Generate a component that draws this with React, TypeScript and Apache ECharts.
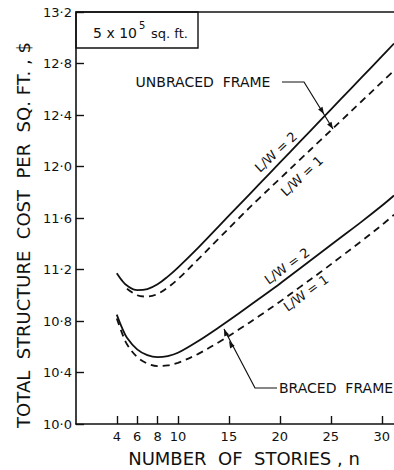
import React, { useEffect, useRef } from "react";
import * as echarts from "echarts";

// Number of stories tick positions
const xTickValues = [4, 6, 8, 10, 15, 20, 25, 30];

// Unbraced frame, L/W = 2 (solid)
const unbracedLW2: [number, number][] = [
  [4, 11.17], [4.5, 11.115], [5, 11.075], [6, 11.04], [7, 11.048], [8, 11.085],
  [9, 11.145], [10, 11.215], [12, 11.37], [14, 11.535], [16, 11.7], [18, 11.865],
  [20, 12.03], [22, 12.195], [24, 12.36], [26, 12.525], [28, 12.69], [30, 12.855], [31.2, 12.955],
];
// Unbraced frame, L/W = 1 (dashed)
const unbracedLW1: [number, number][] = [
  [5, 11.05], [6, 11.0], [7, 10.99], [8, 11.01], [9, 11.06], [10, 11.125],
  [12, 11.28], [14, 11.44], [16, 11.6], [18, 11.755], [20, 11.905], [22, 12.055],
  [24, 12.205], [26, 12.355], [28, 12.505], [30, 12.655], [31.2, 12.745],
];
// Braced frame, L/W = 2 (solid)
const bracedLW2: [number, number][] = [
  [4, 10.85], [4.5, 10.75], [5, 10.67], [6, 10.58], [7, 10.535], [8, 10.52],
  [9, 10.528], [10, 10.553], [12, 10.645], [14, 10.75], [16, 10.86], [18, 10.975],
  [20, 11.09], [22, 11.21], [24, 11.33], [26, 11.45], [28, 11.57], [30, 11.695], [31.2, 11.775],
];
// Braced frame, L/W = 1 (dashed)
const bracedLW1: [number, number][] = [
  [4, 10.82], [4.5, 10.71], [5, 10.62], [6, 10.52], [7, 10.47], [8, 10.45],
  [9, 10.455], [10, 10.475], [12, 10.545], [14, 10.635], [16, 10.735], [18, 10.84],
  [20, 10.95], [22, 11.065], [24, 11.18], [26, 11.3], [28, 11.42], [30, 11.545], [31.2, 11.625],
];

const FONT = "DejaVu Sans";
const INK = "#111";

function arrowHead(tip: number[], from: number[], len = 7, half = 2.6) {
  const dx = tip[0] - from[0];
  const dy = tip[1] - from[1];
  const d = Math.hypot(dx, dy);
  const ux = dx / d, uy = dy / d;
  const bx = tip[0] - ux * len, by = tip[1] - uy * len;
  return {
    type: "polygon",
    shape: { points: [tip, [bx - uy * half, by + ux * half], [bx + uy * half, by - ux * half]] },
    style: { fill: INK },
  };
}

function txt(x: number, y: number, text: string, size: number, extra: any = {}) {
  return {
    type: "text",
    x, y,
    ...extra,
    style: {
      text, fontSize: size, fontFamily: FONT, fill: INK,
      align: extra.align || "center", verticalAlign: "middle",
    },
  };
}

export default function App() {
  const ref = useRef<HTMLDivElement>(null);
  useEffect(() => {
    document.body.style.margin = "0";
    const chart = echarts.init(ref.current!, null, { renderer: "svg" });
    const line = (data: [number, number][], dashed: boolean) => ({
      type: "line",
      data,
      showSymbol: false,
      smooth: 0.35,
      silent: true,
      lineStyle: { color: INK, width: 1.8, type: dashed ? [7, 5] : "solid" },
    });
    const up1 = [282, 82], up2 = [304, 82], upA = [324, 114], upB = [333, 129];
    const br1 = [277, 388], br2 = [255, 388], brA = [229, 341], brB = [224, 329];
    chart.setOption({
      animation: false,
      backgroundColor: "#fff",
      grid: { left: 76, top: 12, right: 0, bottom: 46, containLabel: false, outerBoundsMode: "none" },
      xAxis: {
        type: "value",
        min: 0,
        max: 31.2,
        axisLine: { lineStyle: { color: INK, width: 1.6 } },
        axisTick: { show: true, inside: true, length: 8, customValues: xTickValues, lineStyle: { color: INK, width: 1.4 } },
        axisLabel: { customValues: xTickValues, margin: 6, fontSize: 13, fontFamily: FONT, color: INK },
        splitLine: { show: false },
      },
      yAxis: {
        type: "value",
        min: 10,
        max: 13.2,
        interval: 0.4,
        axisLine: { show: true, lineStyle: { color: INK, width: 1.6 } },
        axisTick: { show: true, inside: true, length: 8, lineStyle: { color: INK, width: 1.4 } },
        axisLabel: {
          margin: 4, fontSize: 13, fontFamily: FONT, color: INK,
          formatter: (v: number) => v.toFixed(1).replace(".", "·"),
        },
        splitLine: { show: false },
      },
      series: [
        line(unbracedLW2, false),
        line(unbracedLW1, true),
        line(bracedLW2, false),
        line(bracedLW1, true),
      ],
      graphic: [
        { type: "line", shape: { x1: 76, y1: 12, x2: 394, y2: 12 }, style: { stroke: INK, lineWidth: 1.6 } },
        { type: "rect", shape: { x: 76, y: 12, width: 122, height: 36 }, style: { fill: "none", stroke: INK, lineWidth: 1.4 } },
        txt(137, 33, "5 x 10", 14, { align: "right" }),
        txt(139, 25, "5", 10, { align: "left" }),
        txt(151, 33, "sq. ft.", 13, { align: "left" }),
        txt(203, 82, "UNBRACED  FRAME", 14),
        { type: "polyline", shape: { points: [up1, up2, upB] }, style: { stroke: INK, lineWidth: 1.2, fill: "none" } },
        arrowHead(upA, up2),
        arrowHead(upB, up2),
        txt(336, 388, "BRACED  FRAME", 14),
        { type: "polyline", shape: { points: [br1, br2, brB] }, style: { stroke: INK, lineWidth: 1.2, fill: "none" } },
        arrowHead(brA, br2),
        arrowHead(brB, brA),
        txt(276, 152, "L/W = 2", 13, { rotation: 0.75 }),
        txt(302, 176, "L/W = 1", 13, { rotation: 0.75 }),
        txt(287, 266, "L/W = 2", 13, { rotation: 0.63 }),
        txt(306, 293, "L/W = 1", 13, { rotation: 0.63 }),
        txt(23, 235, "TOTAL  STRUCTURE  COST  PER  SQ. FT. , $", 18, { rotation: Math.PI / 2 }),
        txt(244, 458, "NUMBER  OF  STORIES , n", 18),
      ],
    });
    return () => chart.dispose();
  }, []);
  return <div ref={ref} style={{ width: 394, height: 470 }} />;
}
